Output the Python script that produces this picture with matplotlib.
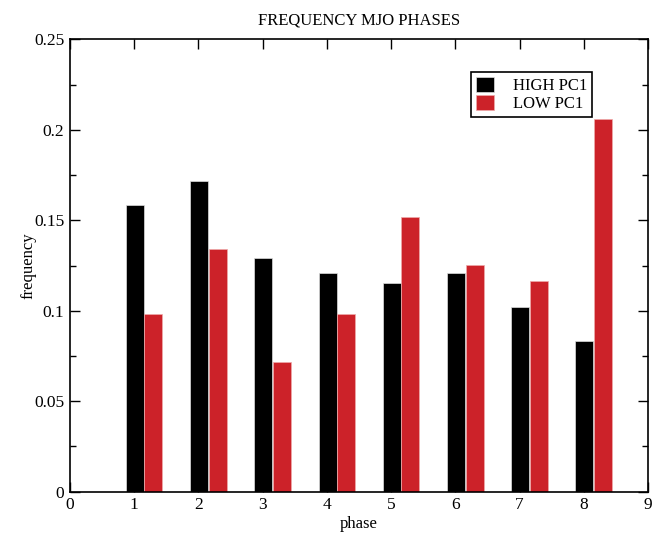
import numpy as np
import matplotlib
matplotlib.use("Agg")
from matplotlib import pyplot as plt
from matplotlib.ticker import MultipleLocator

phases = [1, 2, 3, 4, 5, 6, 7, 8]
high_pc1 = [0.1584, 0.1718, 0.1290, 0.1207, 0.1153, 0.1207, 0.1019, 0.0833]
low_pc1 = [0.0983, 0.1341, 0.0715, 0.0983, 0.1519, 0.1251, 0.1162, 0.2057]

plt.rcParams['font.family'] = ['Liberation Serif', 'DejaVu Serif']
plt.rcParams['font.size'] = 12

fig = plt.figure(figsize=(6.62, 5.34), dpi=100)
ax = fig.add_axes([0.1057, 0.0792, 0.8732, 0.8472])

x = np.array(phases, dtype=float)
ax.bar(x + 0.01, high_pc1, width=0.28, color='black', edgecolor='#dddddd',
       linewidth=0.5, label='HIGH PC1')
ax.bar(x + 0.30, low_pc1, width=0.28, color='#cc2229', edgecolor='#eeaaaa',
       linewidth=0.5, label='LOW PC1')

ax.set_xlim(0, 9)
ax.set_ylim(0, 0.25)
ax.xaxis.set_major_locator(MultipleLocator(1))
ax.yaxis.set_minor_locator(MultipleLocator(0.025))
ax.set_yticks([0, 0.05, 0.1, 0.15, 0.2, 0.25])
ax.set_yticklabels(['0', '0.05', '0.1', '0.15', '0.2', '0.25'])
ax.tick_params(which='both', direction='in', top=True, right=True, width=1)
ax.tick_params(which='major', length=7, pad=4, labelsize=12.5)
ax.tick_params(which='minor', length=4)
for s in ax.spines.values():
    s.set_linewidth(1.2)

ax.set_xlabel('phase', labelpad=2)
ax.set_ylabel('frequency', labelpad=-1.5)
ax.set_title('FREQUENCY MJO PHASES', fontsize=12, pad=11)

leg = ax.legend(loc='upper right', bbox_to_anchor=(0.903, 0.9277),
                fancybox=False, edgecolor='black', framealpha=1,
                handlelength=1.1, handleheight=1.0, handletextpad=1.1,
                borderpad=0.3, borderaxespad=0, labelspacing=0.05,
                fontsize=12)
leg.get_frame().set_linewidth(1.2)

fig.savefig('out.png', dpi=100)
